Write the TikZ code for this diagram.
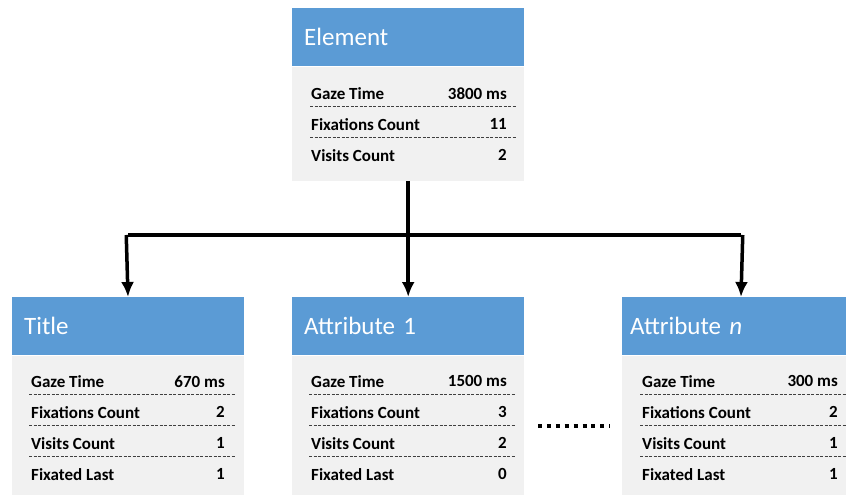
\documentclass[tikz,border=0pt]{standalone}
\usepackage{fontspec}
\setmainfont{Carlito}
\usetikzlibrary{arrows.meta,calc,positioning}

\definecolor{headblue}{RGB}{91,155,213}
\definecolor{bodygray}{RGB}{241,241,241}

\tikzset{
  head/.style={fill=headblue, text=white, anchor=north west, inner sep=0pt,
    minimum width=232pt, minimum height=58pt, text width=208pt, align=left,
    font=\fontsize{25}{29}\selectfont},
  body/.style={fill=bodygray, anchor=north west, inner sep=0pt, minimum width=232pt},
  lbl/.style={anchor=west, inner sep=0pt, font=\fontsize{17}{20}\selectfont\bfseries},
  val/.style={anchor=east, inner sep=0pt, font=\fontsize{17}{20}\selectfont\bfseries},
  sep/.style={dash pattern=on 3pt off 1.5pt, line width=0.9pt, black!75},
  link/.style={line width=3.5pt},
  arr/.style={line width=3.5pt, -{Latex[length=15pt,width=13pt]}}
}

\begin{document}
\begin{tikzpicture}[x=1pt,y=-1pt]
\useasboundingbox (0,0) rectangle (846,495);

% top box
\node[head] (elem) at (292,8) {Element};
\node[body, minimum height=114pt] (elembody) at (elem.south west) {};
\foreach \lab/\val [count=\i] in {Gaze Time/3800 ms, Fixations Count/11, Visits Count/2} {
  \node[lbl] (el\i) at ($(elembody.north west)+(19,-4+31*\i)$) {\lab};
  \node[val] (ev\i) at ($(elembody.north west)+(215,-4+31*\i)$) {\val};
}
\foreach \i in {1,2}
  \draw[sep] ($(elembody.north west)+(18,9+31*\i)$) -- ++(206,0);

% title box
\node[head] (title) at (12,297) {Title};
\node[body, minimum height=140pt] (titlebody) at (title.south west) {};
\foreach \lab/\val [count=\i] in {Gaze Time/670 ms, Fixations Count/2, Visits Count/1, Fixated Last/1} {
  \node[lbl] (tl\i) at ($(titlebody.north west)+(19,-5+31*\i)$) {\lab};
  \node[val] (tv\i) at ($(titlebody.north west)+(213,-5+31*\i)$) {\val};
}
\foreach \i in {1,2,3}
  \draw[sep] ($(titlebody.north west)+(17,8+31*\i)$) -- ++(206,0);

% attribute 1 box
\node[head] (attr) at (292,297) {Attribute 1};
\node[body, minimum height=140pt] (attrbody) at (attr.south west) {};
\foreach \lab/\val [count=\i] in {Gaze Time/1500 ms, Fixations Count/3, Visits Count/2, Fixated Last/0} {
  \node[lbl] (al\i) at ($(attrbody.north west)+(19,-5+31*\i)$) {\lab};
  \node[val] (av\i) at ($(attrbody.north west)+(215,-5+31*\i)$) {\val};
}
\foreach \i in {1,2,3}
  \draw[sep] ($(attrbody.north west)+(17,8+31*\i)$) -- ++(206,0);

% attribute n box
\node[head, minimum width=224pt] (attrn) at (622,297) {Attribute \textit{n}};
\node[body, minimum width=224pt, minimum height=140pt] (attrnbody) at (attrn.south west) {};
\foreach \lab/\val [count=\i] in {Gaze Time/300 ms, Fixations Count/2, Visits Count/1, Fixated Last/1} {
  \node[lbl] (nl\i) at ($(attrnbody.north west)+(20,-5+31*\i)$) {\lab};
  \node[val] (nv\i) at ($(attrnbody.north west)+(216,-5+31*\i)$) {\val};
}
\foreach \i in {1,2,3}
  \draw[sep] ($(attrnbody.north west)+(18,8+31*\i)$) -- ++(206,0);

% connectors
\coordinate (split) at (elembody.south |- 0,235);
\coordinate (left) at (128,235);
\coordinate (right) at (741,235);
\draw[link] (elembody.south) -- (split);
\draw[link] (left) -- (right);
\draw[arr] ([xshift=-1.75pt]left) -- (left |- title.north);
\draw[arr] (split) -- (split |- attr.north);
\draw[arr] ([xshift=1.75pt]right) -- (right |- attrn.north);

% ellipsis
\coordinate (dotsa) at (538,426);
\coordinate (dotsb) at (610,426);
\draw[line width=4pt, dash pattern=on 4pt off 4.9pt] (dotsa) -- (dotsb);
\end{tikzpicture}
\end{document}
